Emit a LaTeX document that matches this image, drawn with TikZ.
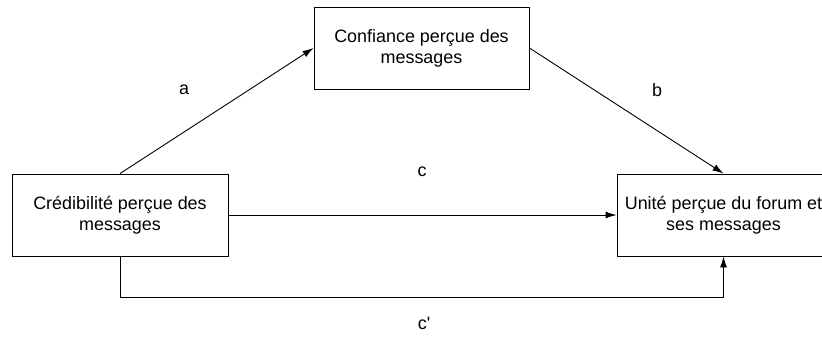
\documentclass[tikz,border=0pt]{standalone}
\usepackage{fontspec}
\setmainfont{Liberation Sans}
\usetikzlibrary{arrows.meta}
\begin{document}
\begin{tikzpicture}[x=1bp,y=-1bp,
  box/.style={draw,line width=0.9bp,minimum width=216bp,minimum height=82bp,align=center,inner sep=0pt,font=\fontsize{18}{21}\selectfont},
  lbl/.style={font=\fontsize{18}{21}\selectfont,inner sep=0pt},
  conn/.style={line width=0.9bp,-{Latex[length=11bp,width=7bp]}}]
\useasboundingbox (0,0) rectangle (822,340);
\clip (0,0) rectangle (822,340);
\fill[white] (0,0) rectangle (822,340);
\node[box] (left) at (120,215) {Crédibilité perçue des\\messages};
\node[box,minimum width=215bp] (top) at (421.5,48) {Confiance perçue des\\messages};
\node[box,minimum width=213bp] (right) at (723.5,215) {Unité perçue du forum et\\ses messages};
\draw[conn] (left.north) -- (top.west);
\draw[conn] (top.east) -- (right.north);
\draw[conn] (left.east) -- (right.west);
\draw[conn] (left.south) -- (left.south |- 0,297) -- (right.south |- 0,297) -- (right.south);
\node[lbl] (la) at (184,90) {a};
\node[lbl] (lb) at (657,90) {b};
\node[lbl] (lc) at (422,172) {c};
\node[lbl] (lcp) at (424,323) {c\textquotesingle};
\end{tikzpicture}
\end{document}
